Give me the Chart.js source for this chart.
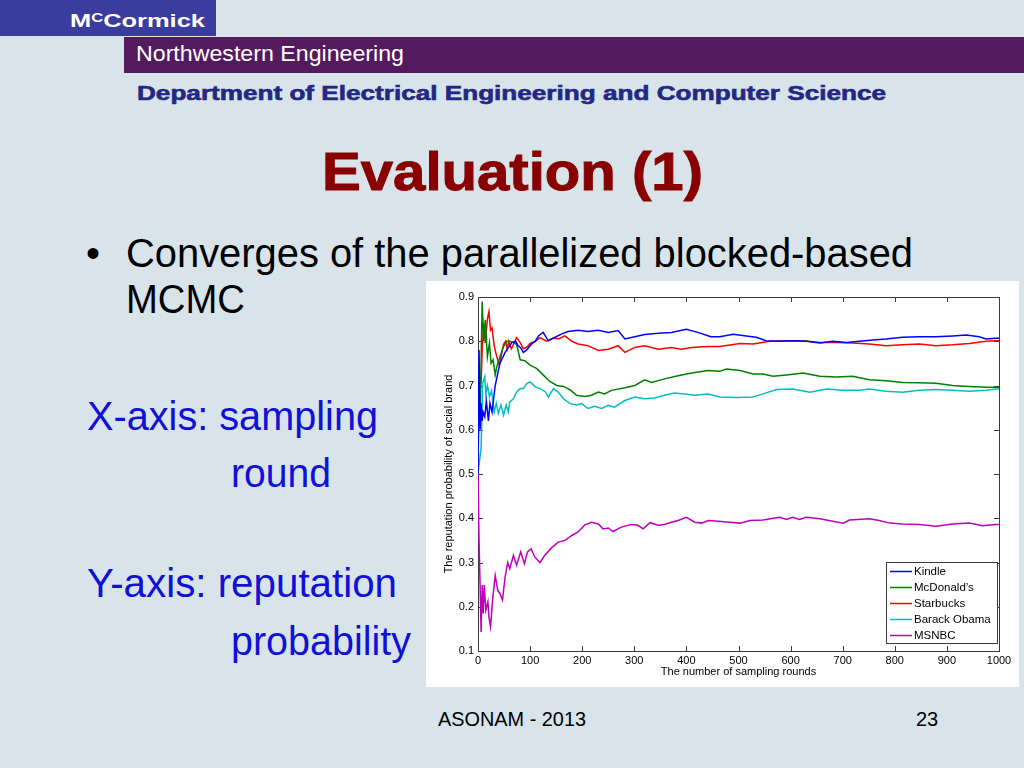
<!DOCTYPE html>
<html>
<head>
<meta charset="utf-8">
<script src="https://cdn.jsdelivr.net/npm/chart.js@4.4.0/dist/chart.umd.min.js"></script>
<style>
  html, body { margin: 0; padding: 0; }
  body { width: 1024px; height: 768px; background: #d9e4ea; position: relative; overflow: hidden;
         font-family: 'Liberation Sans', Arial, sans-serif; }
  .t { position: absolute; white-space: nowrap; line-height: 1; transform-origin: 0 0; }
  #mcbox { position: absolute; left: 0; top: 0; width: 216px; height: 36px; background: #3a3c9e; }
  #nwbar { position: absolute; left: 124px; top: 37px; width: 900px; height: 36px; background: #541a5e; }
  #chartbox { position: absolute; left: 426px; top: 281px; width: 593px; height: 406px; background: #fff; }
</style>
</head>
<body>
<div id="mcbox"></div>
<div id="nwbar"></div>
<div class="t" data-w="135" style="left:70px;top:11px;font-size:19px;font-weight:bold;color:#fff">M<span style="font-size:0.65em;vertical-align:5px">C</span>Cormick</div>
<div class="t" data-w="268" style="left:136px;top:43px;font-size:22px;color:#fff">Northwestern Engineering</div>
<div class="t" data-w="749" style="left:137px;top:83px;font-size:20px;font-weight:bold;color:#232884;-webkit-text-stroke:0.6px #232884">Department of Electrical Engineering and Computer Science</div>
<div class="t" data-w="381" style="left:322px;top:144px;font-size:54px;font-weight:bold;color:#880000;-webkit-text-stroke:1px #880000">Evaluation (1)</div>
<div class="t" style="left:86px;top:233px;font-size:40px;color:#000">•</div>
<div class="t" data-w="787" style="left:126px;top:233px;font-size:40px;color:#000">Converges of the parallelized blocked-based</div>
<div class="t" data-w="119" style="left:126px;top:279px;font-size:40px;color:#000">MCMC</div>
<div class="t" data-w="291" style="left:87px;top:396px;font-size:40px;color:#1010d8">X-axis: sampling</div>
<div class="t" data-w="100" style="left:231px;top:453px;font-size:40px;color:#1010d8">round</div>
<div class="t" data-w="310" style="left:87px;top:563px;font-size:40px;color:#1010d8">Y-axis: reputation</div>
<div class="t" data-w="180" style="left:231px;top:621px;font-size:40px;color:#1010d8">probability</div>
<div class="t" data-w="148" style="left:438px;top:709px;font-size:20px;color:#000">ASONAM - 2013</div>
<div class="t" style="left:916px;top:709px;font-size:20px;color:#000">23</div>

<div id="chartbox"><canvas id="myChart"></canvas></div>

<script>
// fit slide text to the widths measured on the reference
document.querySelectorAll('[data-w]').forEach(el => {
  const w = el.getBoundingClientRect().width;
  el.style.transform = 'scaleX(' + (+el.dataset.w / w) + ')';
});

const seriesNames = ['Kindle', 'McDonald\u2019s', 'Starbucks', 'Barack Obama', 'MSNBC'];
const seriesColors = ['#0000ff', '#008000', '#ff0000', '#00bfbf', '#bf00bf'];

const xTicks = [0, 100, 200, 300, 400, 500, 600, 700, 800, 900, 1000];
const yTicks = [0.1, 0.2, 0.3, 0.4, 0.5, 0.6, 0.7, 0.8, 0.9];

const kindleX = [0, 2, 4, 6, 8, 10, 13, 16, 20, 23, 27, 33, 42, 52, 58, 65, 72, 77, 82, 87,
  93, 103, 110, 116, 125, 135, 148, 160, 173, 192, 211, 231, 250, 269, 282, 301, 320, 346, 371, 400,
  422, 447, 464, 490, 515, 534, 553, 579, 604, 630, 656, 681, 707, 732, 758, 783, 815, 847, 879, 911,
  937, 962, 975, 994, 1000];
const kindleY = [0.5, 0.78, 0.6, 0.66, 0.62, 0.64, 0.63, 0.665, 0.62, 0.66, 0.64, 0.7, 0.75, 0.775, 0.785, 0.797, 0.80, 0.79, 0.785, 0.775,
  0.78, 0.794, 0.80, 0.812, 0.82, 0.801, 0.809, 0.816, 0.822, 0.825, 0.822, 0.825, 0.82, 0.824, 0.805, 0.81, 0.815, 0.818, 0.82, 0.827,
  0.82, 0.81, 0.81, 0.816, 0.812, 0.809, 0.801, 0.80, 0.801, 0.80, 0.796, 0.80, 0.797, 0.80, 0.803, 0.805, 0.809, 0.81, 0.81, 0.812,
  0.814, 0.81, 0.805, 0.807, 0.807];

const mcdX = [0, 2, 4, 8, 11, 14, 18, 22, 25, 29, 33, 36, 42, 49, 55, 61, 68, 74, 81, 90,
  100, 113, 125, 138, 151, 164, 177, 189, 205, 218, 231, 243, 256, 282, 301, 320, 333, 358, 384, 410,
  442, 464, 477, 503, 528, 547, 566, 592, 624, 656, 688, 719, 751, 783, 815, 847, 879, 911, 943, 975,
  994, 1000];
const mcdY = [0.5, 0.75, 0.62, 0.89, 0.80, 0.848, 0.765, 0.796, 0.75, 0.758, 0.724, 0.742, 0.765, 0.788, 0.80, 0.80, 0.797, 0.793, 0.758, 0.756,
  0.746, 0.738, 0.724, 0.709, 0.70, 0.698, 0.69, 0.678, 0.675, 0.678, 0.685, 0.681, 0.689, 0.695, 0.70, 0.713, 0.707, 0.715, 0.722, 0.728,
  0.734, 0.732, 0.737, 0.734, 0.726, 0.726, 0.721, 0.724, 0.728, 0.721, 0.719, 0.721, 0.713, 0.711, 0.707, 0.706, 0.705, 0.70, 0.698, 0.696,
  0.696, 0.696];

const sbuxX = [0, 2, 6, 8, 11, 14, 18, 21, 24, 27, 31, 36, 41, 45, 49, 53, 56, 59, 64, 68,
  74, 81, 87, 93, 100, 110, 119, 132, 145, 154, 167, 180, 192, 211, 231, 250, 269, 282, 301, 320,
  346, 371, 390, 410, 442, 464, 503, 528, 560, 592, 624, 656, 688, 719, 751, 783, 815, 847, 879, 911,
  943, 975, 994, 1000];
const sbuxY = [0.5, 0.72, 0.71, 0.78, 0.84, 0.796, 0.85, 0.867, 0.825, 0.83, 0.79, 0.765, 0.746, 0.77, 0.793, 0.80, 0.783, 0.80, 0.783, 0.793,
  0.808, 0.797, 0.783, 0.786, 0.795, 0.80, 0.808, 0.80, 0.808, 0.805, 0.812, 0.80, 0.794, 0.79, 0.779, 0.782, 0.79, 0.775, 0.786, 0.79,
  0.782, 0.786, 0.782, 0.786, 0.788, 0.788, 0.795, 0.794, 0.80, 0.801, 0.801, 0.797, 0.797, 0.796, 0.794, 0.79, 0.792, 0.794, 0.79, 0.792,
  0.795, 0.80, 0.801, 0.801];

const obamaX = [0, 2, 6, 9, 13, 15, 18, 22, 26, 31, 35, 39, 44, 49, 54, 58, 61, 68, 74, 81,
  87, 94, 100, 110, 119, 129, 135, 145, 154, 164, 177, 189, 199, 211, 224, 237, 250, 262, 282, 301,
  320, 339, 358, 377, 397, 416, 442, 464, 496, 528, 547, 573, 604, 637, 669, 701, 732, 751, 783, 815,
  847, 879, 911, 943, 975, 994, 1000];
const obamaY = [0.5, 0.52, 0.56, 0.705, 0.72, 0.68, 0.70, 0.675, 0.688, 0.64, 0.66, 0.637, 0.656, 0.633, 0.656, 0.64, 0.663, 0.67, 0.685, 0.693,
  0.693, 0.705, 0.708, 0.697, 0.693, 0.686, 0.674, 0.693, 0.685, 0.67, 0.659, 0.656, 0.659, 0.648, 0.653, 0.648, 0.655, 0.651, 0.666, 0.674,
  0.67, 0.672, 0.678, 0.683, 0.681, 0.678, 0.681, 0.674, 0.673, 0.674, 0.681, 0.691, 0.692, 0.685, 0.692, 0.689, 0.689, 0.692, 0.687, 0.685,
  0.689, 0.691, 0.689, 0.687, 0.689, 0.692, 0.692];

const msnbcX = [0, 2, 4, 6, 8, 10, 12, 15, 19, 21, 24, 28, 33, 38, 42, 47, 52, 57, 61, 68,
  74, 82, 89, 95, 102, 109, 119, 128, 141, 154, 167, 180, 192, 205, 218, 231, 240, 250, 259, 275,
  294, 307, 317, 330, 346, 358, 371, 384, 400, 416, 429, 442, 461, 483, 503, 522, 547, 579, 592, 604,
  617, 630, 656, 681, 701, 713, 751, 770, 790, 815, 847, 879, 911, 943, 968, 994, 1000];
const msnbcY = [0.5, 0.35, 0.25, 0.143, 0.249, 0.185, 0.249, 0.192, 0.211, 0.177, 0.155, 0.215, 0.271, 0.237, 0.23, 0.215, 0.267, 0.30, 0.286, 0.316,
  0.294, 0.324, 0.297, 0.324, 0.331, 0.312, 0.30, 0.316, 0.333, 0.346, 0.35, 0.361, 0.369, 0.385, 0.391, 0.387, 0.376, 0.378, 0.37, 0.38,
  0.386, 0.384, 0.376, 0.39, 0.384, 0.386, 0.391, 0.395, 0.402, 0.391, 0.389, 0.395, 0.393, 0.391, 0.389, 0.395, 0.396, 0.402, 0.397, 0.402,
  0.397, 0.402, 0.399, 0.393, 0.389, 0.396, 0.399, 0.395, 0.389, 0.387, 0.386, 0.382, 0.387, 0.389, 0.383, 0.386, 0.386];

const allX = [kindleX, mcdX, sbuxX, obamaX, msnbcX];
const allY = [kindleY, mcdY, sbuxY, obamaY, msnbcY];

const FONT = "'Liberation Sans', Arial, Helvetica, sans-serif";

// matlab style box with inward ticks, drawn under the lines
const framePlugin = {
  id: 'frame',
  beforeDatasetsDraw(chart) {
    const {ctx, chartArea: a, scales: {x, y}} = chart;
    ctx.save();
    ctx.strokeStyle = '#3a3a3a';
    ctx.lineWidth = 1;
    ctx.strokeRect(Math.round(a.left) + 0.5, Math.round(a.top) + 0.5, Math.round(a.width), Math.round(a.height));
    ctx.beginPath();
    xTicks.forEach(v => {
      const px = Math.round(x.getPixelForValue(v)) + 0.5;
      ctx.moveTo(px, a.bottom); ctx.lineTo(px, a.bottom - 5);
      ctx.moveTo(px, a.top); ctx.lineTo(px, a.top + 5);
    });
    yTicks.forEach(v => {
      const py = Math.round(y.getPixelForValue(v)) + 0.5;
      ctx.moveTo(a.left, py); ctx.lineTo(a.left + 5, py);
      ctx.moveTo(a.right, py); ctx.lineTo(a.right - 5, py);
    });
    ctx.stroke();
    ctx.restore();
  }
};

// legend box inside the lower right of the plot
const legendPlugin = {
  id: 'boxLegend',
  afterDraw(chart) {
    const {ctx, chartArea: a} = chart;
    const w = 111, h = 81;
    const left = a.right - 2 - w, top = a.bottom - 8 - h;
    ctx.save();
    ctx.fillStyle = '#fff';
    ctx.fillRect(left, top, w, h);
    ctx.strokeStyle = '#3a3a3a';
    ctx.lineWidth = 1;
    ctx.strokeRect(Math.round(left) + 0.5, Math.round(top) + 0.5, w, h);
    ctx.font = '11.5px ' + FONT;
    ctx.textBaseline = 'middle';
    chart.data.datasets.forEach((ds, i) => {
      const cy = top + 9.5 + i * 16;
      ctx.strokeStyle = ds.borderColor;
      ctx.lineWidth = 1.5;
      ctx.beginPath();
      ctx.moveTo(left + 4, cy); ctx.lineTo(left + 26, cy);
      ctx.stroke();
      ctx.fillStyle = '#000';
      ctx.fillText(ds.label, left + 28, cy);
    });
    ctx.restore();
  }
};

const datasets = seriesNames.map((name, i) => ({
  label: name,
  data: allX[i].map((v, j) => ({x: v, y: allY[i][j]})),
  borderColor: seriesColors[i],
  backgroundColor: seriesColors[i],
  borderWidth: 1.5,
  pointRadius: 0,
  tension: 0,
  fill: false
}));

const ctx = document.getElementById('myChart');
const myChart = new Chart(ctx, {
  type: 'line',
  data: {datasets: datasets},
  options: {
    responsive: true,
    maintainAspectRatio: false,
    animation: false,
    events: [],
    layout: {padding: {left: 0, top: 16, right: 20, bottom: 0}},
    plugins: {legend: {display: false}, tooltip: {enabled: false}},
    scales: {
      x: {
        type: 'linear',
        min: 0,
        max: 1000,
        afterBuildTicks: s => { s.ticks = xTicks.map(v => ({value: v})); },
        afterFit: s => { s.height = 36; },
        grid: {display: false, drawTicks: false},
        border: {display: false},
        ticks: {color: '#000', padding: 3, maxRotation: 0, autoSkip: false,
                font: {size: 11, family: FONT}, callback: v => String(v)},
        title: {display: true, text: 'The number of sampling rounds', color: '#000',
                font: {size: 11, family: FONT}, padding: {top: 0, bottom: 8}}
      },
      y: {
        type: 'linear',
        min: 0.1,
        max: 0.9,
        afterBuildTicks: s => { s.ticks = yTicks.map(v => ({value: v})); },
        afterFit: s => { s.width = 52; },
        grid: {display: false, drawTicks: false},
        border: {display: false},
        ticks: {color: '#000', padding: 4, autoSkip: false,
                font: {size: 11, family: FONT}, callback: v => v.toFixed(1)},
        title: {display: true, text: 'The reputation probability of social brand', color: '#000',
                font: {size: 11, family: FONT}, padding: {top: 16, bottom: 0}}
      }
    }
  },
  plugins: [framePlugin, legendPlugin]
});
</script>
</body>
</html>
